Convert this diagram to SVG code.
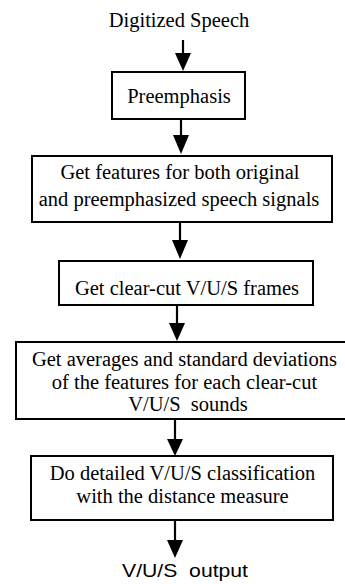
<svg xmlns="http://www.w3.org/2000/svg" width="345" height="584" viewBox="0 0 345 584">
<style>
rect.box{fill:#fff;stroke:#000;stroke-width:2}
line.c{stroke:#000;stroke-width:2.2}
text{font-family:'Liberation Serif','Times New Roman',Times,serif;font-size:20.5px;text-anchor:middle;fill:#000}
text.sans{font-family:'Liberation Sans',Arial,Helvetica,sans-serif;font-size:19px}
</style>
<g id="connectors">
<line class="c" x1="183" y1="40" x2="183" y2="53"/><path d="M175,53 L191,53 L183,71 Z"/>
<line class="c" x1="181" y1="119" x2="181" y2="135"/><path d="M173,135 L189,135 L181,154 Z"/>
<line class="c" x1="180" y1="222" x2="180" y2="240"/><path d="M172,240 L188,240 L180,259 Z"/>
<line class="c" x1="177" y1="305" x2="177" y2="323"/><path d="M169,323 L185,323 L177,341 Z"/>
<line class="c" x1="175" y1="419" x2="175" y2="439"/><path d="M167,439 L183,439 L175,456 Z"/>
<line class="c" x1="175" y1="520" x2="175" y2="540"/><path d="M167,540 L183,540 L175,558 Z"/>
</g>
<g id="input"><text x="179" y="27">Digitized Speech</text></g>
<g id="preemphasis">
<rect class="box" x="112" y="72" width="133" height="47"/>
<text x="179" y="103">Preemphasis</text>
</g>
<g id="features">
<rect class="box" x="32" y="156" width="300" height="66"/>
<text x="180" y="179">Get features for both original</text>
<text x="179" y="206">and preemphasized speech signals</text>
</g>
<g id="clearcut">
<rect class="box" x="59" y="261" width="254" height="44"/>
<text x="187" y="295">Get clear-cut V/U/S frames</text>
</g>
<g id="averages">
<rect class="box" x="16" y="342" width="332" height="77"/>
<text x="184.5" y="366">Get averages and standard deviations</text>
<text x="184.5" y="389">of the features for each clear-cut</text>
<text x="188" y="411" xml:space="preserve">V/U/S  sounds</text>
</g>
<g id="classification">
<rect class="box" x="31" y="456" width="302" height="64"/>
<text x="182.5" y="480">Do detailed V/U/S classification</text>
<text x="182.5" y="503">with the distance measure</text>
</g>
<g id="output"><text class="sans" x="185" y="577" textLength="126" lengthAdjust="spacingAndGlyphs" xml:space="preserve">V/U/S  output</text></g>
</svg>
